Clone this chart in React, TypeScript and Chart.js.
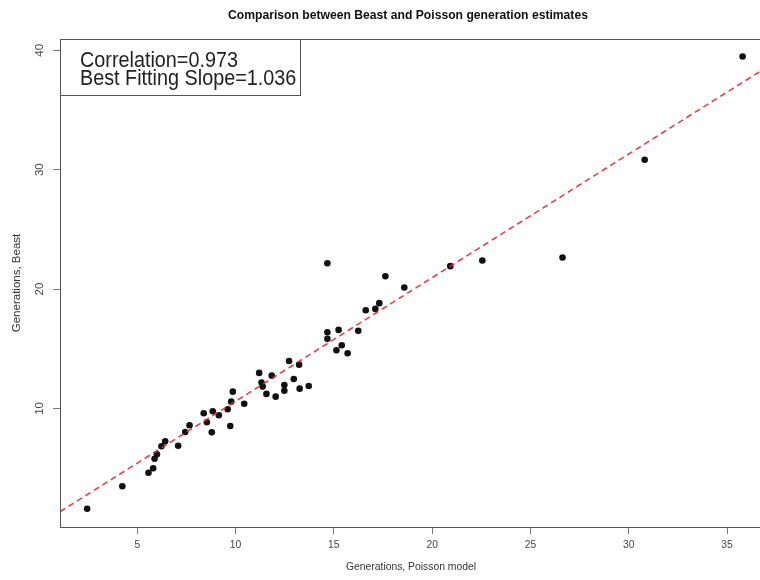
import React, { useEffect, useRef } from "react";
import { Chart, registerables } from "chart.js";

Chart.register(...registerables);

// Poisson model estimates (x) and Beast estimates (y)
const poissonGenerations = [
  2.45, 4.24, 5.57, 5.81, 5.88, 6.0, 6.23, 6.42, 7.08, 7.44, 7.66, 8.38, 8.54,
  8.79, 8.84, 9.15, 9.6, 9.73, 9.78, 9.86, 10.44, 11.2, 11.32, 11.38, 11.57,
  11.84, 12.04, 12.48, 12.48, 12.72, 12.96, 13.23, 13.26, 13.72, 14.67, 14.67,
  14.67, 15.24, 15.13, 15.4, 15.7, 16.24, 16.62, 17.11, 17.31, 17.62, 18.58,
  20.92, 22.55, 26.63, 30.81, 35.79,
];
const beastGenerations = [
  1.6, 3.48, 4.62, 4.99, 5.79, 6.16, 6.83, 7.25, 6.88, 8.03, 8.59, 9.6, 8.84,
  8.0, 9.77, 9.43, 9.93, 8.53, 10.57, 11.41, 10.4, 12.98, 12.17, 11.83, 11.22,
  12.75, 10.99, 11.97, 11.49, 13.98, 12.47, 13.67, 11.66, 11.88, 22.17, 16.39,
  15.83, 16.58, 14.88, 15.3, 14.63, 16.5, 18.23, 18.34, 18.82, 21.08, 20.13,
  21.92, 22.39, 22.64, 30.83, 39.49,
];

// best fitting line, end points read at the plot edges
const fitLineX = [1.07, 37.03];
const fitLineY = [1.35, 38.6];

const xRange = [1.07, 37.03];
const yRange = [0.07, 40.95];
const xTickStep = 5;
const yTickStep = 10;

const titleText = "Comparison between Beast and Poisson generation estimates";
const xAxisTitle = "Generations, Poisson model";
const yAxisTitle = "Generations, Beast";
const legendLines = ["Correlation=0.973", "Best Fitting Slope=1.036"];

const FONT = '"Liberation Sans", Arial, Helvetica, sans-serif';
const SQUEEZE = 0.9; // the picture's text is a little narrow

function squeezedText(ctx: CanvasRenderingContext2D, s: string, x: number, y: number) {
  ctx.save();
  ctx.translate(x, y);
  ctx.scale(SQUEEZE, 1);
  ctx.fillText(s, 0, 0);
  ctx.restore();
}

const decorPlugin = {
  id: "decor",
  afterDraw(chart: any) {
    const { ctx, chartArea: a, scales } = chart;
    ctx.save();

    // plot box
    ctx.strokeStyle = "#555";
    ctx.lineWidth = 1;
    ctx.strokeRect(
      Math.round(a.left) + 0.5,
      Math.round(a.top) + 0.5,
      Math.round(a.right - a.left),
      Math.round(a.bottom - a.top)
    );

    ctx.font = `11.5px ${FONT}`;
    ctx.fillStyle = "#444";
    ctx.textAlign = "center";
    ctx.textBaseline = "middle";

    // x tick labels
    const xs = scales.x;
    xs.ticks.forEach((t: any) => {
      squeezedText(ctx, String(t.value), xs.getPixelForValue(t.value), 545);
    });

    // y tick labels (rotated, R style)
    const ys = scales.y;
    ys.ticks.forEach((t: any) => {
      const py = ys.getPixelForValue(t.value);
      ctx.save();
      ctx.translate(a.left - 20, py);
      ctx.rotate(-Math.PI / 2);
      ctx.scale(1, SQUEEZE);
      ctx.fillText(String(t.value), 0, 0);
      ctx.restore();
    });

    // y axis title
    ctx.fillStyle = "#333";
    ctx.save();
    ctx.translate(17, (a.top + a.bottom) / 2);
    ctx.rotate(-Math.PI / 2);
    ctx.scale(1, SQUEEZE);
    ctx.fillText(yAxisTitle, 0, 0);
    ctx.restore();

    // x axis title
    squeezedText(ctx, xAxisTitle, 411, 567);

    // main title
    ctx.font = `bold 13.5px ${FONT}`;
    ctx.fillStyle = "#111";
    squeezedText(ctx, titleText, 408, 15);

    // legend box
    ctx.font = `22px ${FONT}`;
    const textLeft = a.left + 20;
    const maxW = Math.max(...legendLines.map((s) => ctx.measureText(s).width)) * SQUEEZE;
    const boxL = Math.round(a.left) + 0.5;
    const boxT = Math.round(a.top) + 0.5;
    const boxR = Math.round(textLeft + maxW + 4) + 0.5;
    const boxB = 95.5;
    ctx.fillStyle = "#fff";
    ctx.fillRect(boxL, boxT, boxR - boxL, boxB - boxT);
    ctx.strokeStyle = "#555";
    ctx.strokeRect(boxL, boxT, boxR - boxL, boxB - boxT);
    ctx.fillStyle = "#222";
    ctx.textAlign = "left";
    ctx.textBaseline = "alphabetic";
    legendLines.forEach((s, i) => {
      squeezedText(ctx, s, textLeft, 67 + i * 18.3);
    });

    ctx.restore();
  },
};

export default function App() {
  const ref = useRef<HTMLCanvasElement | null>(null);

  useEffect(() => {
    if (!ref.current) return;
    const points = poissonGenerations.map((x, i) => ({ x, y: beastGenerations[i] }));
    const fit = fitLineX.map((x, i) => ({ x, y: fitLineY[i] }));
    const chart = new Chart(ref.current, {
      type: "scatter",
      data: {
        datasets: [
          {
            data: points,
            pointRadius: 3.3,
            pointHoverRadius: 3.3,
            backgroundColor: "#111",
            borderWidth: 0,
            order: 1,
          },
          {
            type: "line",
            data: fit,
            showLine: true,
            borderColor: "rgba(222,45,50,0.9)",
            borderWidth: 1.6,
            borderDash: [6, 4],
            pointRadius: 0,
            fill: false,
            order: 0,
          } as any,
        ],
      },
      options: {
        animation: false,
        responsive: false,
        devicePixelRatio: 1,
        layout: { padding: { left: 0, top: 39, right: 13, bottom: 0 } },
        plugins: {
          legend: { display: false },
          title: { display: false },
          tooltip: { enabled: false },
        },
        scales: {
          x: {
            type: "linear",
            position: "bottom",
            min: xRange[0],
            max: xRange[1],
            border: { display: false },
            grid: {
              drawOnChartArea: false,
              drawTicks: true,
              tickLength: 7,
              color: "#777",
            },
            ticks: {
              stepSize: xTickStep,
              includeBounds: false,
              autoSkip: false,
              maxRotation: 0,
              color: "rgba(0,0,0,0)",
              padding: 5,
              font: { family: FONT, size: 11 },
            },
            afterFit: (s: any) => {
              s.height = 53;
            },
          },
          y: {
            type: "linear",
            position: "left",
            min: yRange[0],
            max: yRange[1],
            border: { display: false },
            grid: {
              drawOnChartArea: false,
              drawTicks: true,
              tickLength: 7,
              color: "#777",
            },
            ticks: {
              stepSize: yTickStep,
              includeBounds: false,
              color: "rgba(0,0,0,0)",
              font: { family: FONT, size: 11 },
            },
            afterFit: (s: any) => {
              s.width = 60;
            },
          },
        },
      },
      plugins: [decorPlugin],
    });
    return () => chart.destroy();
  }, []);

  return (
    <div
      style={{
        position: "absolute",
        left: 0,
        top: 0,
        width: 760,
        height: 580,
        overflow: "hidden",
        background: "#fff",
      }}
    >
      <canvas
        ref={ref}
        width={780}
        height={580}
        style={{ display: "block", width: 780, height: 580 }}
      />
    </div>
  );
}
